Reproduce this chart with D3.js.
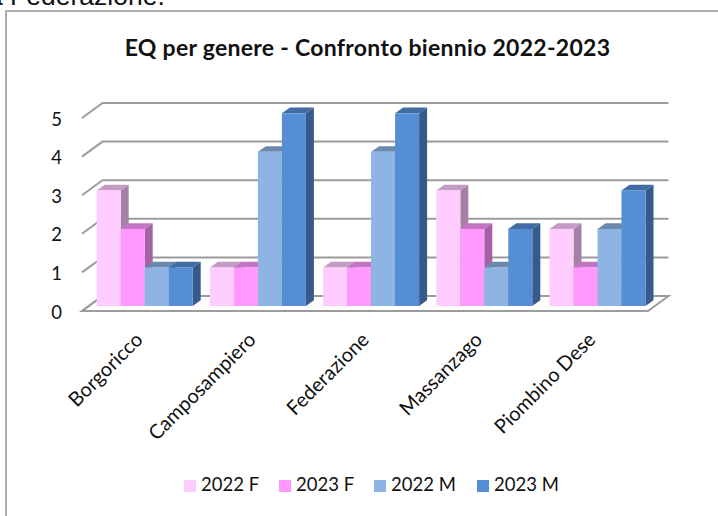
<!DOCTYPE html>
<html><head><meta charset="utf-8">
<script src="https://cdn.jsdelivr.net/npm/d3@7"></script>
<style>html,body{margin:0;padding:0;background:#fff}svg{display:block}text{font-family:Lato,sans-serif;fill:#111}</style>
</head><body><svg id="c" width="718" height="516"></svg>
<script>
const categories = ["Borgoricco","Camposampiero","Federazione","Massanzago","Piombino Dese"];
const seriesNames = ["2022 F","2023 F","2022 M","2023 M"];
const values2022F = [3,1,1,3,2];
const values2023F = [2,1,1,2,1];
const values2022M = [1,4,4,1,2];
const values2023M = [1,5,5,2,3];
const allValues = [values2022F,values2023F,values2022M,values2023M];
const yTicks = [0,1,2,3,4,5];
const faceColors = ["#FFCCFF","#FF99FF","#8DB4E2","#558ED5"];
const topColors = ["#C39BC3","#C374C3","#6C89AD","#416DA3"];
const sideColors = ["#A681A6","#A660A6","#5B7493","#365A8A"];

const svg = d3.select("#c");
const dx = 8, dy = -5.7;          // bar depth offset
const wx = 20.5, wy = -15;        // wall offset
const y = d3.scaleLinear().domain([0,5]).range([306,113.3]);
const yAxisFront = d3.scaleLinear().domain([0,5]).range([311,118]);
const x0 = d3.scaleBand().domain(categories).range([82,648]);
const x1 = d3.scaleBand().domain(seriesNames).range([14.7,110.7]);
const gray = "#9C9C9C";

svg.append("text").attr("x",-12).attr("y",5).style("font-family","'Liberation Sans'").style("font-size","26.5px").text("a Federazione.");
svg.append("rect").attr("x",6).attr("y",11).attr("width",725).attr("height",520).attr("fill","#fff").attr("stroke","#8c8c8c").attr("stroke-width",1.4);

svg.append("text").attr("x",367.5).attr("y",55.5).attr("text-anchor","middle").style("font-weight",700).style("font-size","23px").style("letter-spacing","0.28px").text("EQ per genere - Confronto biennio 2022-2023");

// floor
const [rx0,rx1] = x0.range();
svg.append("path").attr("d",`M${rx0},311H${rx1}L${rx1+wx},${311+wy}H${rx0+wx}Z`).attr("fill","#fff").attr("stroke",gray).attr("stroke-width",2);
// gridlines
yTicks.forEach(t=>{
  const yf = yAxisFront(t);
  svg.append("path").attr("d",`M${rx0},${yf}L${rx0+wx},${yf+wy}H${rx1+wx}`).attr("fill","none").attr("stroke",gray).attr("stroke-width",2);
  svg.append("text").attr("x",62).attr("y",yf+1.2).attr("dy","0.35em").attr("text-anchor","end").style("font-size","18.5px").text(t);
});

// bars, back to front within each group so sides are overdrawn by the next bar
categories.forEach((c,ci)=>{
  seriesNames.forEach((s,si)=>{
    const v = allValues[si][ci];
    const l = x0(c)+x1(s), w = x1.bandwidth(), r = l+w, t = y(v), b = y(0);
    const g = svg.append("g");
    g.append("path").attr("d",`M${r},${t}L${r+dx},${t+dy}V${b+dy}L${r},${b}Z`).attr("fill",sideColors[si]);
    g.append("path").attr("d",`M${l},${t}L${l+dx},${t+dy}H${r+dx}L${r},${t}Z`).attr("fill",topColors[si]);
    g.append("rect").attr("x",l).attr("y",t).attr("width",w).attr("height",b-t).attr("fill",faceColors[si]);
  });
  svg.append("text").attr("transform",`translate(${x0(c)+57},336) rotate(-45)`).attr("text-anchor","end").attr("dy","0.35em").style("font-size","20px").text(c);
});

// legend
const legendX = [184,279,374,477];
seriesNames.forEach((s,i)=>{
  svg.append("rect").attr("x",legendX[i]).attr("y",480).attr("width",12).attr("height",12).attr("fill",faceColors[i]);
  svg.append("text").attr("x",legendX[i]+17).attr("y",485).attr("dy","0.35em").style("font-size","18.5px").text(s);
});
</script></body></html>
